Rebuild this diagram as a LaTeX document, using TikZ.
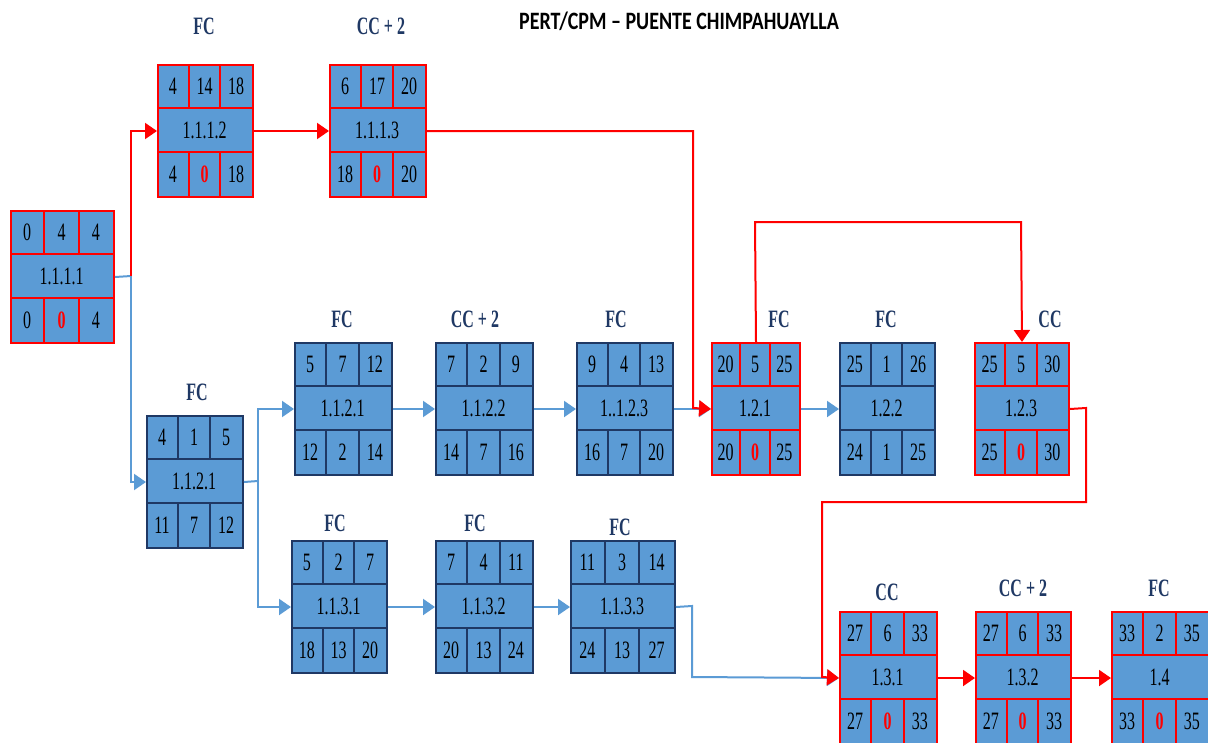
\documentclass[tikz,border=0pt]{standalone}
\usepackage{fontspec}
\setmainfont{Liberation Serif}
\newfontfamily\numfont[FakeStretch=0.64]{Liberation Serif}
\newfontfamily\titlefont[FakeStretch=0.8]{Carlito}
\usetikzlibrary{arrows.meta,calc}
\definecolor{boxblue}{HTML}{5B9BD5}
\definecolor{navy}{HTML}{1F3864}
\definecolor{pred}{HTML}{FF0000}
\newcommand\zr{{\color{pred}\bfseries 0}}
\tikzset{
 crit/.style={draw=pred},
 norm/.style={draw=navy},
 pbox/.style={rectangle, fill=boxblue, line width=2pt, inner sep=0pt},
 num/.style={font=\numfont\fontsize{25}{25}\selectfont, inner sep=0pt, text=black},
 lab/.style={font=\numfont\bfseries\fontsize{25}{25}\selectfont, text=navy, inner sep=0pt},
 redline/.style={draw=pred, line width=2pt, -{Triangle[length=12pt,width=16pt]}},
 blueline/.style={draw=boxblue, line width=2pt, -{Triangle[length=12pt,width=16pt]}},
 plainblue/.style={draw=boxblue, line width=2pt},
}
\newcommand\pnode[8]{%
 \node[pbox,#5,minimum width=#4pt,minimum height=132pt,anchor=north west] (#1) at (#2,#3) {};
 \draw[#5,line width=2pt] (#2,#3+44) -- ++(#4,0) (#2,#3+88) -- ++(#4,0)
   ({#2+#4/3},#3) -- ++(0,44) ({#2+2*#4/3},#3) -- ++(0,44)
   ({#2+#4/3},#3+88) -- ++(0,44) ({#2+2*#4/3},#3+88) -- ++(0,44);
 \foreach \v [count=\i] in {#6} {\node[num] (#1t\i) at ({#2+(2*\i-1)*#4/6},{#3+22}) {\v};}
 \node[num] (#1id) at ({#2+#4/2},{#3+66}) {#7};
 \foreach \v [count=\i] in {#8} {\node[num] (#1b\i) at ({#2+(2*\i-1)*#4/6},{#3+110}) {\v};}
}
\begin{document}
\begin{tikzpicture}[x=1pt,y=-1pt]
\fill[white] (0,0) rectangle (1208,742);
\useasboundingbox (0,0) rectangle (1208,742);

\node[font=\titlefont\bfseries\fontsize{25}{25}\selectfont, inner sep=0pt] (title) at (679,21) {PERT/CPM – PUENTE CHIMPAHUAYLLA};

\pnode{n1111}{10}{210}{103}{crit}{0,4,4}{1.1.1.1}{0,\zr,4}
\pnode{n1112}{157}{64}{95}{crit}{4,14,18}{1.1.1.2}{4,\zr,18}
\pnode{n1113}{329}{64}{96}{crit}{6,17,20}{1.1.1.3}{18,\zr,20}
\pnode{n1121a}{146}{415}{96}{norm}{4,1,5}{1.1.2.1}{11,7,12}
\pnode{n1121}{294}{342}{97}{norm}{5,7,12}{1.1.2.1}{12,2,14}
\pnode{n1122}{435}{342}{97}{norm}{7,2,9}{1.1.2.2}{14,7,16}
\pnode{n1123}{576}{342}{96}{norm}{9,4,13}{1..1.2.3}{16,7,20}
\pnode{n121}{711}{342}{88}{crit}{20,5,25}{1.2.1}{20,\zr,25}
\pnode{n122}{839}{342}{95}{norm}{25,1,26}{1.2.2}{24,1,25}
\pnode{n123}{974}{342}{94}{crit}{25,5,30}{1.2.3}{25,\zr,30}
\pnode{n1131}{291}{540}{95}{norm}{5,2,7}{1.1.3.1}{18,13,20}
\pnode{n1132}{435}{540}{97}{norm}{7,4,11}{1.1.3.2}{20,13,24}
\pnode{n1133}{570}{540}{104}{norm}{11,3,14}{1.1.3.3}{24,13,27}
\pnode{n131}{839}{611}{97}{crit}{27,6,33}{1.3.1}{27,\zr,33}
\pnode{n132}{975}{611}{95}{crit}{27,6,33}{1.3.2}{27,\zr,33}
\pnode{n14}{1111}{611}{97}{crit}{33,2,35}{1.4}{33,\zr,35}

% labels
\node[lab] (l1112) at (204,26) {FC};
\node[lab] (l1113) at (381,26) {CC + 2};
\node[lab] (l1121a) at (197,392) {FC};
\node[lab] (l1121) at (342,319) {FC};
\node[lab] (l1122) at (475,319) {CC + 2};
\node[lab] (l1123) at (616,319) {FC};
\node[lab] (l121) at (779,319) {FC};
\node[lab] (l122) at (886,319) {FC};
\node[lab] (l123) at (1050,319) {CC};
\node[lab] (l1131) at (335,523) {FC};
\node[lab] (l1132) at (475,523) {FC};
\node[lab] (l1133) at (620,527) {FC};
\node[lab] (l131) at (887,592) {CC};
\node[lab] (l132) at (1023,588) {CC + 2};
\node[lab] (l14) at (1159,588) {FC};

% junction coordinates
\coordinate (j1) at (131,276);
\coordinate (j2) at (693,408);
\coordinate (j3) at (258,481);
\coordinate (j4) at (755,222);
\coordinate (j5) at (1021,222);
\coordinate (j6) at (1086,408);
\coordinate (j7) at (1086,502);
\coordinate (j8) at (822,502);
\coordinate (j9) at (822,677);
\coordinate (j10) at (692,606);
\coordinate (j11) at (692,677);

% blue connectors
\draw[plainblue] (n1111.east) -- (j1);
\draw[blueline] (j1) |- (n1121a.west);
\draw[plainblue] (n1121a.east) -- (j3);
\draw[blueline] (j3) |- (n1121.west);
\draw[blueline] (j3) |- (n1131.west);
\draw[blueline] (n1121.east) -- (n1122.west);
\draw[blueline] (n1122.east) -- (n1123.west);
\draw[blueline] (n1123.east) -- (n121.west);
\draw[blueline] (n121.east) -- (n122.west);
\draw[blueline] (n1131.east) -- (n1132.west);
\draw[blueline] (n1132.east) -- (n1133.west);
\draw[blueline] (n1133.east) -- (j10) -- (j11) -- (n131.west);

% red connectors
\draw[redline] (j1) |- (n1112.west);
\draw[redline] (n1112.east) -- (n1113.west);
\draw[redline] (n1113.east) -| (j2) -- (n121.west);
\draw[redline] (n121.north) -- (j4) -- (j5) -- (n123.north);
\draw[redline] (n123.east) -- (j6) -- (j7) -- (j8) -- (j9) -- (n131.west);
\draw[redline] (n131.east) -- (n132.west);
\draw[redline] (n132.east) -- (n14.west);
\end{tikzpicture}
\end{document}
